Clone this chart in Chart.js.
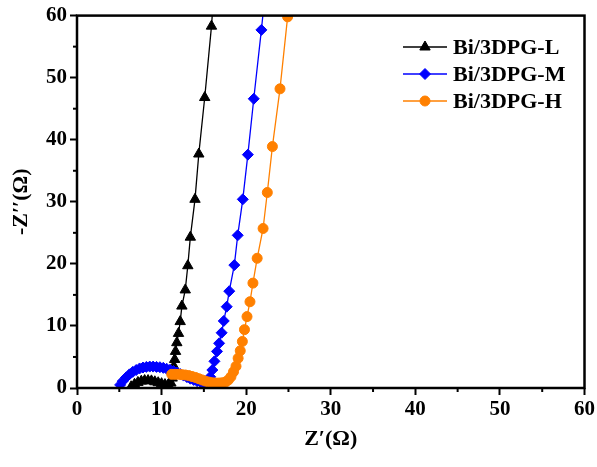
<!DOCTYPE html>
<html>
<head>
<meta charset="utf-8">
<script src="https://cdn.jsdelivr.net/npm/chart.js@4/dist/chart.umd.min.js"></script>
<style>
  html, body { margin: 0; padding: 0; background: #fff; }
  #wrap { width: 597px; height: 467px; }
</style>
</head>
<body>
<div id="wrap"><canvas id="nyquist"></canvas></div>
<script>
// Nyquist data (Z' and -Z'' in ohm)
const seriesNames = ['Bi/3DPG-L', 'Bi/3DPG-M', 'Bi/3DPG-H'];
const seriesColors = ['#000000', '#0000ff', '#ff8000'];

const lZre = [6.4, 6.8, 7.2, 7.6, 8.0, 8.4, 8.8, 9.2, 9.6, 10.0, 10.4, 10.8, 11.1, 11.25, 11.35, 11.45, 11.55, 11.65, 11.8, 12.0, 12.2, 12.4, 12.8, 13.1, 13.4, 13.95, 14.4, 15.1, 15.9, 16.6];
const lZim = [0.2, 0.6, 0.9, 1.1, 1.2, 1.2, 1.15, 1.0, 0.85, 0.7, 0.55, 0.5, 0.8, 1.6, 2.5, 3.5, 4.6, 5.9, 7.3, 8.8, 10.7, 13.2, 15.8, 19.7, 24.3, 30.4, 37.7, 46.8, 58.3, 72];

const mZre = [5.1, 5.4, 5.8, 6.2, 6.6, 7.0, 7.4, 7.8, 8.2, 8.6, 9.0, 9.4, 9.8, 10.2, 10.6, 11.0, 11.4, 11.8, 12.2, 12.6, 13.0, 13.4, 13.8, 14.2, 14.6, 15.0, 15.4, 15.75, 16.0, 16.25, 16.55, 16.8, 17.1, 17.35, 17.7, 18.0, 18.6, 19.0, 19.6, 20.2, 20.9, 21.8, 22.8];
const mZim = [0.5, 1.1, 1.7, 2.2, 2.6, 2.9, 3.15, 3.3, 3.4, 3.45, 3.45, 3.4, 3.35, 3.25, 3.1, 2.95, 2.75, 2.5, 2.25, 2.0, 1.75, 1.5, 1.3, 1.1, 0.95, 0.9, 1.1, 1.8, 2.9, 4.3, 5.9, 7.2, 8.9, 10.8, 13.1, 15.6, 19.8, 24.6, 30.4, 37.6, 46.6, 57.7, 71];

const hZre = [11.2, 11.6, 12.0, 12.4, 12.8, 13.2, 13.6, 14.0, 14.4, 14.8, 15.2, 15.6, 16.0, 16.4, 16.8, 17.2, 17.6, 17.9, 18.2, 18.5, 18.8, 19.05, 19.3, 19.55, 19.8, 20.1, 20.45, 20.8, 21.3, 22.0, 22.5, 23.1, 24.0, 24.9];
const hZim = [2.2, 2.2, 2.2, 2.15, 2.1, 2.0, 1.85, 1.7, 1.5, 1.3, 1.1, 0.95, 0.85, 0.8, 0.8, 0.85, 1.0, 1.3, 1.8, 2.6, 3.5, 4.8, 6.0, 7.5, 9.4, 11.5, 13.9, 16.9, 20.9, 25.7, 31.5, 38.9, 48.2, 59.8];

const xTicks = [0, 10, 20, 30, 40, 50, 60];
const yTicks = [0, 10, 20, 30, 40, 50, 60];
const minorTicks = [5, 15, 25, 35, 45, 55];

function toPoints(xs, ys) {
    return xs.map((x, i) => ({ x: x, y: ys[i] }));
}

const serif = '"Liberation Serif", "Times New Roman", serif';

// frame, minor ticks and a legend with line + marker samples
const framePlugin = {
    id: 'frame',
    afterDraw(chart) {
        const ctx = chart.ctx;
        const a = chart.chartArea;
        const xs = chart.scales.x, ys = chart.scales.y;
        ctx.save();
        ctx.strokeStyle = '#000';
        ctx.lineWidth = 2;
        minorTicks.forEach(v => {
            const px = xs.getPixelForValue(v);
            ctx.beginPath(); ctx.moveTo(px, a.bottom); ctx.lineTo(px, a.bottom + 4); ctx.stroke();
            const py = ys.getPixelForValue(v);
            ctx.beginPath(); ctx.moveTo(a.left, py); ctx.lineTo(a.left - 4, py); ctx.stroke();
        });
        ctx.lineWidth = 2.5;
        ctx.strokeRect(a.left, a.top, a.right - a.left, a.bottom - a.top);

        // legend
        const rowY = [47, 74, 101];
        chart.data.datasets.forEach((ds, i) => {
            const y = rowY[i];
            ctx.strokeStyle = ds.borderColor;
            ctx.fillStyle = ds.pointBackgroundColor;
            ctx.lineWidth = 1.3;
            ctx.beginPath(); ctx.moveTo(403, y); ctx.lineTo(447, y); ctx.stroke();
            ctx.lineWidth = 1;
            Chart.helpers.drawPoint(ctx, {
                pointStyle: ds.pointStyle, radius: ds.pointRadius, borderWidth: 1
            }, 425, y);
            ctx.fillStyle = '#000';
            ctx.font = 'bold 22px ' + serif;
            ctx.textAlign = 'left';
            ctx.textBaseline = 'middle';
            ctx.fillText(ds.label, 453, y + 1);
        });
        ctx.restore();
    }
};

const styles = [
    { pointStyle: 'triangle', pointRadius: 6 },
    { pointStyle: 'rectRot', pointRadius: 5.5 },
    { pointStyle: 'circle', pointRadius: 5 }
];
const seriesData = [toPoints(lZre, lZim), toPoints(mZre, mZim), toPoints(hZre, hZim)];

const datasets = seriesNames.map((name, i) => ({
    label: name,
    data: seriesData[i],
    showLine: true,
    borderColor: seriesColors[i],
    borderWidth: 1.3,
    backgroundColor: seriesColors[i],
    pointBackgroundColor: seriesColors[i],
    pointBorderColor: seriesColors[i],
    pointBorderWidth: 1,
    pointStyle: styles[i].pointStyle,
    pointRadius: styles[i].pointRadius,
    order: 3 - i
}));

new Chart(document.getElementById('nyquist'), {
    type: 'scatter',
    data: { datasets: datasets },
    options: {
        responsive: true,
        maintainAspectRatio: false,
        animation: false,
        layout: { padding: { top: 14, right: 11, left: 0, bottom: 0 } },
        plugins: {
            legend: { display: false },
            tooltip: { enabled: false }
        },
        scales: {
            x: {
                type: 'linear',
                min: 0, max: 60,
                afterBuildTicks: s => { s.ticks = xTicks.map(v => ({ value: v })); },
                afterFit: s => { s.height = 79; },
                border: { display: false },
                grid: { drawOnChartArea: false, color: '#000', tickLength: 7, tickWidth: 2 },
                ticks: { color: '#000', padding: 2, font: { family: serif, size: 21, weight: 'bold' } },
                title: {
                    display: true, text: 'Z\u2032(\u03a9)', color: '#000',
                    font: { family: serif, size: 22, weight: 'bold' },
                    padding: { top: 0, bottom: 14 }
                }
            },
            y: {
                type: 'linear',
                min: 0, max: 60,
                afterBuildTicks: s => { s.ticks = yTicks.map(v => ({ value: v })); },
                afterFit: s => { s.width = 77; },
                border: { display: false },
                grid: { drawOnChartArea: false, color: '#000', tickLength: 7, tickWidth: 2 },
                ticks: { color: '#000', padding: 3, font: { family: serif, size: 21, weight: 'bold' } },
                title: {
                    display: true, text: '-Z\u2032\u2032(\u03a9)', color: '#000',
                    font: { family: serif, size: 22, weight: 'bold' },
                    padding: { top: 8, bottom: 0 }
                }
            }
        }
    },
    plugins: [framePlugin]
});
</script>
</body>
</html>
